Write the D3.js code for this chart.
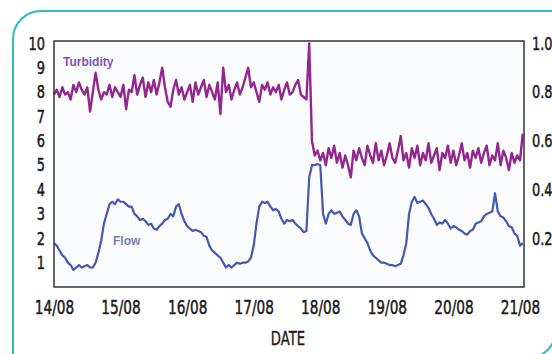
<!DOCTYPE html>
<html>
<head>
<meta charset="utf-8">
<script src="https://cdn.jsdelivr.net/npm/d3@7"></script>
<style>
  body { margin: 0; background: #fff; }
  svg { display: block; }
</style>
</head>
<body>
<div id="chart"></div>
<script>
// tick labels (one per day, midnight)
const dayLabels = ["14/08", "15/08", "16/08", "17/08", "18/08", "19/08", "20/08", "21/08"];
const leftTicks = [1, 2, 3, 4, 5, 6, 7, 8, 9, 10];
const rightTicks = [0.2, 0.4, 0.6, 0.8, 1.0];

// hourly readings from 14/08 00:00 (hour 0) to hour 169
const turbidity = [
  7.9, 8.1, 7.8, 8.2, 7.9, 8.0, 7.7, 8.3, 8.0, 8.4, 8.1, 7.9,
  8.2, 7.2, 8.0, 8.8, 8.1, 7.7, 8.0, 7.9, 8.3, 7.8, 8.2, 8.0,
  7.8, 8.3, 7.3, 8.1, 8.0, 8.7, 7.9, 8.3, 8.6, 7.8, 8.4, 8.0,
  8.5, 7.9, 8.4, 9.0, 8.2, 7.6, 7.4, 8.1, 8.5, 7.9, 8.2, 7.7,
  8.0, 8.3, 7.6, 8.4, 7.9, 8.2, 8.5, 7.8, 8.3, 8.0, 7.7, 8.4,
  7.1, 9.0, 8.0, 8.3, 7.7, 8.1, 8.4, 7.9, 8.2, 8.6, 9.0, 8.2,
  8.4, 8.0, 7.6, 8.3, 8.1, 8.4, 7.9, 8.2, 8.0, 8.3, 7.7, 8.1,
  8.4, 7.9, 8.0, 8.3, 8.5, 7.9, 7.8, 7.7,
  10.0,
  6.0, 5.4, 5.6, 5.2, 5.5, 5.0, 5.7, 5.3, 5.8, 5.1, 5.5, 4.9, 5.4,
  5.0, 4.5, 5.6, 5.2, 5.7, 5.3, 5.0, 5.8, 5.4, 5.1, 5.9, 5.2,
  5.6, 5.0, 5.4, 5.9, 5.3, 5.1, 5.6, 6.2, 5.2, 5.5, 4.9, 5.7,
  5.3, 5.8, 5.0, 5.5, 5.2, 5.9, 5.1, 5.4, 5.7, 4.8, 5.5, 5.3,
  5.8, 5.1, 5.6, 5.0, 5.4, 5.9, 5.2, 5.5, 4.9, 5.6, 5.3, 5.7,
  5.1, 5.5, 5.8, 5.0, 5.4, 5.2, 5.9, 5.0, 5.6, 5.3, 4.8, 5.5,
  5.1, 5.4, 5.2, 6.3
];

const flow = [
  0.18, 0.17, 0.15, 0.13, 0.12, 0.10, 0.09, 0.07, 0.08, 0.09, 0.08, 0.085,
  0.09, 0.08, 0.08, 0.10, 0.14, 0.19, 0.26, 0.30, 0.34, 0.35, 0.34, 0.36,
  0.35, 0.35, 0.34, 0.33, 0.33, 0.30, 0.29, 0.275, 0.28, 0.27, 0.255, 0.26,
  0.24, 0.235, 0.25, 0.26, 0.275, 0.28, 0.30, 0.29, 0.33, 0.34, 0.30, 0.27,
  0.25, 0.24, 0.23, 0.235, 0.23, 0.225, 0.21, 0.205, 0.17, 0.15, 0.14, 0.13,
  0.12, 0.10, 0.08, 0.09, 0.08, 0.09, 0.10, 0.095, 0.10, 0.10, 0.105, 0.12,
  0.17, 0.26, 0.33, 0.35, 0.345, 0.35, 0.33, 0.315, 0.32, 0.31, 0.28, 0.26,
  0.275, 0.27, 0.275, 0.26, 0.25, 0.24, 0.225, 0.23, 0.45, 0.50, 0.50, 0.505,
  0.50, 0.30, 0.26, 0.30, 0.315, 0.30, 0.305, 0.31, 0.29, 0.275, 0.26, 0.255,
  0.30, 0.315, 0.29, 0.22, 0.20, 0.18, 0.15, 0.13, 0.12, 0.11, 0.10, 0.10,
  0.095, 0.09, 0.09, 0.085, 0.09, 0.095, 0.13, 0.18, 0.30, 0.35, 0.37, 0.345,
  0.35, 0.355, 0.34, 0.325, 0.30, 0.28, 0.255, 0.265, 0.26, 0.275, 0.26, 0.24,
  0.25, 0.245, 0.235, 0.23, 0.22, 0.215, 0.23, 0.235, 0.26, 0.265, 0.27, 0.29,
  0.30, 0.305, 0.31, 0.385, 0.31, 0.29, 0.285, 0.27, 0.25, 0.245, 0.22, 0.21,
  0.17, 0.18
];

const width = 552, height = 354;
const plot = {left: 54, top: 41, right: 524, bottom: 287};
const axisFont = '"DejaVu Sans", sans-serif';

const svg = d3.select("#chart")
  .append("svg")
    .attr("width", width)
    .attr("height", height);

// teal frame: rounded top-left and bottom-right corners, runs off the page
svg.append("path")
  .attr("d", "M13,362 V39 A28,28 0 0 1 41,11 H556 V330 A28,28 0 0 1 528,358 H13")
  .attr("fill", "none")
  .attr("stroke", "#2cbcbc")
  .attr("stroke-width", 2);

// scales (x in hours since 14/08 00:00)
const x = d3.scaleLinear()
  .domain([0, 169.44])
  .range([plot.left, plot.right]);
const yLeft = d3.scaleLinear()
  .domain([0, 10.1])
  .range([plot.bottom, plot.top]);
const yRight = d3.scaleLinear()
  .domain([0, 1.01])
  .range([plot.bottom, plot.top]);

// plot background
svg.append("rect")
  .attr("x", plot.left).attr("y", plot.top)
  .attr("width", plot.right - plot.left)
  .attr("height", plot.bottom - plot.top)
  .attr("fill", "#fbfcfe");

// lines
const turbLine = d3.line()
  .x((d, i) => x(i))
  .y(d => yLeft(d));
const flowLine = d3.line()
  .x((d, i) => x(i))
  .y(d => yRight(d));

svg.append("path")
  .datum(flow)
  .attr("d", flowLine)
  .attr("fill", "none")
  .attr("stroke", "#4457b2")
  .attr("stroke-width", 2.2)
  .attr("stroke-linejoin", "round");

svg.append("path")
  .datum(turbidity)
  .attr("d", turbLine)
  .attr("fill", "none")
  .attr("stroke", "#93268f")
  .attr("stroke-width", 2.4)
  .attr("stroke-linejoin", "round");

// series labels
svg.append("text")
  .attr("x", 63).attr("y", 66)
  .attr("font-family", "Arial, 'Liberation Sans', sans-serif")
  .attr("font-weight", "bold")
  .attr("font-size", 12)
  .attr("fill", "#7a55b0")
  .text("Turbidity");

svg.append("text")
  .attr("x", 113).attr("y", 245)
  .attr("font-family", "Arial, 'Liberation Sans', sans-serif")
  .attr("font-weight", "bold")
  .attr("font-size", 12)
  .attr("fill", "#7482ac")
  .text("Flow");

// frame
svg.append("rect")
  .attr("x", plot.left).attr("y", plot.top)
  .attr("width", plot.right - plot.left)
  .attr("height", plot.bottom - plot.top)
  .attr("fill", "none")
  .attr("stroke", "#333")
  .attr("stroke-width", 1.5);

// left axis
const gl = svg.append("g")
  .attr("transform", `translate(${plot.left - 9},0)`)
  .call(d3.axisLeft(yLeft).tickValues(leftTicks).tickSize(0).tickPadding(0));
gl.select(".domain").remove();

// right axis
const gr = svg.append("g")
  .attr("transform", `translate(${plot.right + 8},0)`)
  .call(d3.axisRight(yRight).tickValues(rightTicks).tickSize(0).tickPadding(0)
    .tickFormat(d3.format(".1f")));
gr.select(".domain").remove();

// bottom axis
const gb = svg.append("g")
  .attr("transform", `translate(0,${plot.bottom + 13})`)
  .call(d3.axisBottom(x).tickValues(dayLabels.map((d, i) => i * 24))
    .tickSize(0).tickPadding(0)
    .tickFormat((d, i) => dayLabels[i]));
gb.select(".domain").remove();

// condensed look: squeeze the glyphs horizontally around the anchor
svg.selectAll(".tick text")
  .attr("font-family", axisFont)
  .attr("fill", "#1a1a1a")
  .attr("stroke", "#1a1a1a")
  .attr("stroke-width", 0.5)
  .attr("transform", "scale(0.72,1)");
gl.selectAll(".tick text").attr("font-size", 18);
gr.selectAll(".tick text").attr("font-size", 18);
gb.selectAll(".tick text").attr("font-size", 19);

// x axis title
svg.append("text")
  .attr("transform", `translate(${(plot.left + plot.right) / 2 - 1},345) scale(0.66,1)`)
  .attr("text-anchor", "middle")
  .attr("font-family", axisFont)
  .attr("font-size", 20)
  .attr("fill", "#1a1a1a")
  .attr("stroke", "#1a1a1a")
  .attr("stroke-width", 0.4)
  .text("DATE");
</script>
</body>
</html>
